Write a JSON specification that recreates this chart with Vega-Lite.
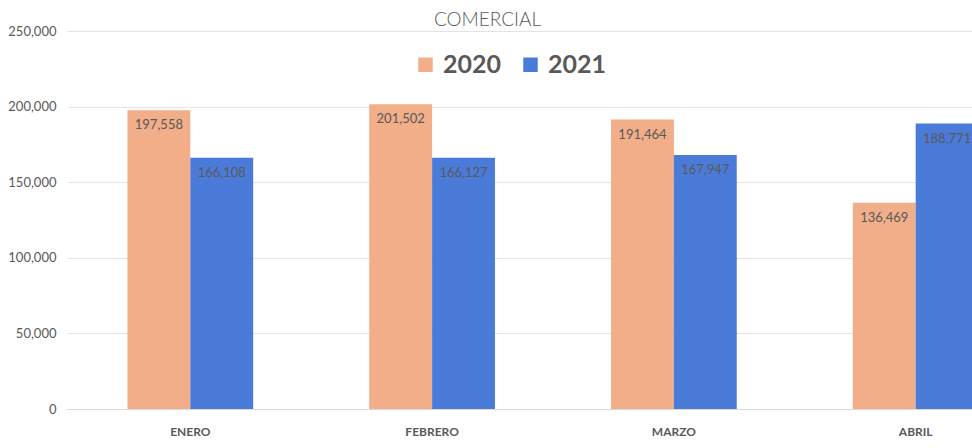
{
  "$schema": "https://vega.github.io/schema/vega-lite/v6.json",
  "autosize": "none",
  "width": 905,
  "height": 378,
  "padding": {"left": 67, "top": 31, "right": 0, "bottom": 39},
  "background": "white",
  "config": {
    "font": "Lato",
    "view": {"stroke": null}
  },
  "title": {
    "text": "COMERCIAL",
    "fontSize": 19,
    "fontWeight": 300,
    "color": "#595959",
    "anchor": "middle",
    "dx": -32,
    "offset": -5
  },
  "data": {
    "values": [
      {"mes": "ENERO", "anio": "2020", "valor": 197558},
      {"mes": "ENERO", "anio": "2021", "valor": 166108},
      {"mes": "FEBRERO", "anio": "2020", "valor": 201502},
      {"mes": "FEBRERO", "anio": "2021", "valor": 166127},
      {"mes": "MARZO", "anio": "2020", "valor": 191464},
      {"mes": "MARZO", "anio": "2021", "valor": 167947},
      {"mes": "ABRIL", "anio": "2020", "valor": 136469},
      {"mes": "ABRIL", "anio": "2021", "valor": 188771}
    ]
  },
  "encoding": {
    "x": {
      "field": "mes",
      "type": "nominal",
      "sort": ["ENERO", "FEBRERO", "MARZO", "ABRIL"],
      "scale": {"range": [0, 972], "paddingInner": 0.48, "paddingOuter": 0.25},
      "axis": {
        "title": null,
        "labelAngle": 0,
        "labelFontWeight": "bold",
        "labelFontSize": 12,
        "labelColor": "#595959",
        "labelPadding": 17,
        "ticks": false,
        "domainColor": "#d9d9d9",
        "grid": false
      }
    },
    "xOffset": {"field": "anio", "type": "nominal", "scale": {"paddingInner": 0}},
    "y": {
      "field": "valor",
      "type": "quantitative",
      "scale": {"domain": [0, 250000]},
      "axis": {
        "title": null,
        "values": [0, 50000, 100000, 150000, 200000, 250000],
        "format": ",.0f",
        "domain": false,
        "ticks": false,
        "labelPadding": 11,
        "labelFontSize": 13,
        "labelColor": "#595959",
        "gridColor": "#e3e3e3"
      }
    }
  },
  "layer": [
    {
      "mark": {"type": "bar", "clip": true},
      "encoding": {
        "color": {
          "field": "anio",
          "type": "nominal",
          "scale": {"domain": ["2020", "2021"], "range": ["#F1AE88", "#4B7BD9"]},
          "legend": {
            "orient": "none",
            "legendX": 346,
            "legendY": 21,
            "direction": "horizontal",
            "title": null,
            "symbolType": "square",
            "symbolSize": 210,
            "symbolStrokeWidth": 0,
            "labelFontSize": 25,
            "labelFontWeight": "bold",
            "labelColor": "#595959",
            "labelOffset": 5,
            "columnPadding": 16
          }
        }
      }
    },
    {
      "mark": {"type": "text", "clip": true, "baseline": "top", "dy": 9, "fontSize": 13, "color": "#595959"},
      "encoding": {
        "text": {"field": "valor", "type": "quantitative", "format": ",.0f"}
      }
    }
  ]
}
